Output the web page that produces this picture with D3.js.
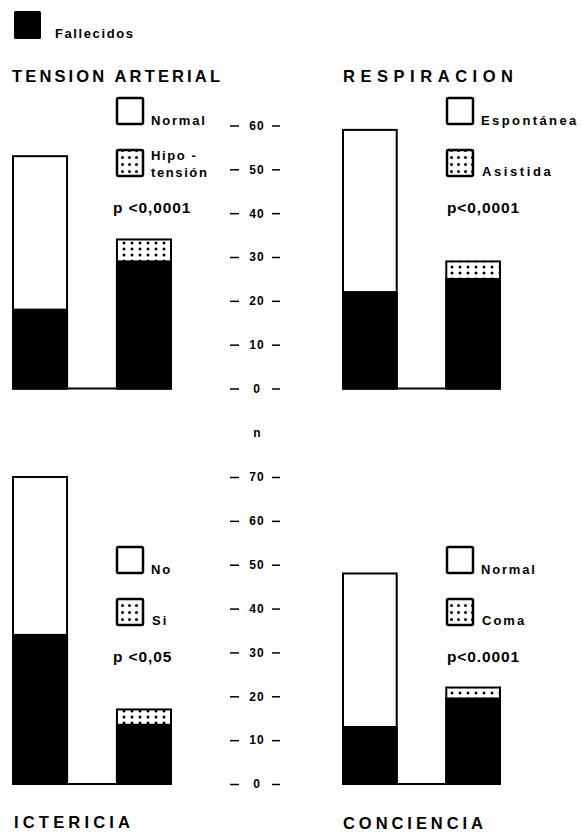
<!DOCTYPE html>
<html>
<head>
<meta charset="utf-8">
<script src="https://cdnjs.cloudflare.com/ajax/libs/d3/7.8.5/d3.min.js"></script>
<style>
  body { margin: 0; background: #fff; }
  svg { font-family: "Liberation Sans", Arial, sans-serif; font-weight: bold; }
</style>
</head>
<body>
<svg id="chart" width="583" height="832"></svg>
<script>
// data
let panelTitles = ['TENSION ARTERIAL', 'RESPIRACION', 'ICTERICIA', 'CONCIENCIA']
let groupLabels = [['Normal', 'Hipotensión'], ['Espontánea', 'Asistida'], ['No', 'Si'], ['Normal', 'Coma']]
let totals = [[53, 34], [59, 29], [70, 17], [48, 22]]
let fallecidos = [[18, 29], [22, 25], [34, 13.5], [13, 19.5]]
let pValues = ['p <0,0001', 'p<0,0001', 'p <0,05', 'p<0.0001']
let topTicks = [0, 10, 20, 30, 40, 50, 60]
let bottomTicks = [0, 10, 20, 30, 40, 50, 60, 70]

let svg = d3.select('#chart')

let defs = svg.append('defs')
let dots = defs.append('pattern')
    .attr('id', 'dots')
    .attr('patternUnits', 'userSpaceOnUse')
    .attr('width', 8).attr('height', 6)
dots.append('rect').attr('width', 8).attr('height', 6).attr('fill', '#fff')
dots.append('circle').attr('cx', 4).attr('cy', 3).attr('r', 1.5).attr('fill', '#000')

let legDots = defs.append('pattern')
    .attr('id', 'legdots')
    .attr('patternUnits', 'userSpaceOnUse')
    .attr('width', 7).attr('height', 7)
legDots.append('rect').attr('width', 7).attr('height', 7).attr('fill', '#fff')
legDots.append('circle').attr('cx', 3.5).attr('cy', 3.5).attr('r', 1.5).attr('fill', '#000')

// two rows share one scale each
let yTop = d3.scaleLinear().domain([0, 60]).range([388.5, 125.5])
let yBottom = d3.scaleLinear().domain([0, 70]).range([784, 477])

let panels = [
    {x0: 13, x1: 171, y: yTop, legX: 117, legY: 98, titleX: 12, titleY: 82, titleW: 208},
    {x0: 343, x1: 500, y: yTop, legX: 447, legY: 98, titleX: 343, titleY: 82, titleW: 170},
    {x0: 13, x1: 171, y: yBottom, legX: 117, legY: 547, titleX: 14, titleY: 828, titleW: 116},
    {x0: 343, x1: 500, y: yBottom, legX: 447, legY: 547, titleX: 343, titleY: 829, titleW: 140}
]

let drawPanel = (p, i) => {
    let g = svg.append('g')
    let x = d3.scaleBand().domain(groupLabels[i]).range([p.x0, p.x1]).paddingInner(0.48)
    let y = p.y
    let bw = x.bandwidth()

    // baseline between bars
    g.append('line')
        .attr('x1', p.x0).attr('x2', p.x1)
        .attr('y1', y(0)).attr('y2', y(0))
        .attr('stroke', '#000').attr('stroke-width', 2)

    groupLabels[i].forEach((lab, j) => {
        let total = totals[i][j]
        let dead = fallecidos[i][j]
        g.append('rect')
            .attr('x', x(lab)).attr('y', y(total))
            .attr('width', bw).attr('height', y(0) - y(total))
            .attr('fill', j === 0 ? '#fff' : 'url(#dots)')
            .attr('stroke', '#000').attr('stroke-width', 2)
        g.append('rect')
            .attr('x', x(lab)).attr('y', y(dead))
            .attr('width', bw).attr('height', y(0) - y(dead))
            .attr('fill', '#000').attr('stroke', '#000').attr('stroke-width', 2)
    })

    // legend
    g.append('rect')
        .attr('x', p.legX).attr('y', p.legY).attr('width', 26).attr('height', 26)
        .attr('fill', '#fff').attr('stroke', '#000').attr('stroke-width', 2.5).attr('rx', 1.5)
    g.append('rect')
        .attr('x', p.legX).attr('y', p.legY + 52).attr('width', 26).attr('height', 26)
        .attr('fill', 'url(#legdots)').attr('stroke', '#000').attr('stroke-width', 2.5).attr('rx', 1.5)

    g.append('text')
        .attr('x', p.legX + 34).attr('y', p.legY + 27)
        .attr('font-size', 13).attr('letter-spacing', i === 1 ? 2.4 : 1.8)
        .text(groupLabels[i][0])

    if (i === 0) {
        let t = g.append('text').attr('font-size', 13).attr('letter-spacing', 1.6)
        t.append('tspan').attr('x', p.legX + 34).attr('y', p.legY + 62).text('Hipo -')
        t.append('tspan').attr('x', p.legX + 34).attr('y', p.legY + 79).text('tensión')
    } else {
        g.append('text')
            .attr('x', p.legX + 35).attr('y', p.legY + 78)
            .attr('font-size', 13).attr('letter-spacing', i === 1 ? 2.6 : 2)
            .text(groupLabels[i][1])
    }

    g.append('text')
        .attr('x', i % 2 === 0 ? p.legX - 4 : p.legX).attr('y', p.legY + 115)
        .attr('font-size', 15.5).attr('letter-spacing', 0.9)
        .text(pValues[i])

    g.append('text')
        .attr('x', p.titleX).attr('y', p.titleY)
        .attr('font-size', 16.5)
        .attr('textLength', p.titleW).attr('lengthAdjust', 'spacing')
        .text(panelTitles[i])
}

panels.forEach(drawPanel)

// central n axes
let drawAxis = (scale, ticks) => {
    let ax = svg.append('g')
        .attr('transform', 'translate(257,0)')
        .call(d3.axisRight(scale).tickValues(ticks).tickSize(0).tickPadding(0))
    ax.select('.domain').remove()
    ax.selectAll('.tick text')
        .attr('x', 0).attr('text-anchor', 'middle')
        .attr('font-family', '"Liberation Sans", Arial, sans-serif')
        .attr('font-weight', 'bold').attr('font-size', 12)
        .attr('letter-spacing', 1)
        .attr('fill', '#000')
    ax.selectAll('.tick').append('line')
        .attr('x1', -27).attr('x2', -18).attr('y1', 0).attr('y2', 0)
        .attr('stroke', '#000').attr('stroke-width', 1.5)
    ax.selectAll('.tick').append('line')
        .attr('x1', 15).attr('x2', 23).attr('y1', 0).attr('y2', 0)
        .attr('stroke', '#000').attr('stroke-width', 1.5)
}
drawAxis(yTop, topTicks)
drawAxis(yBottom, bottomTicks)

svg.append('text')
    .attr('x', 257).attr('y', 437).attr('text-anchor', 'middle')
    .attr('font-size', 12)
    .text('n')

// Fallecidos key
svg.append('rect')
    .attr('x', 14).attr('y', 11).attr('width', 27).attr('height', 28)
    .attr('fill', '#000').attr('rx', 1.5)
svg.append('text')
    .attr('x', 55).attr('y', 38)
    .attr('font-size', 13).attr('letter-spacing', 1.6)
    .text('Fallecidos')
</script>
</body>
</html>
